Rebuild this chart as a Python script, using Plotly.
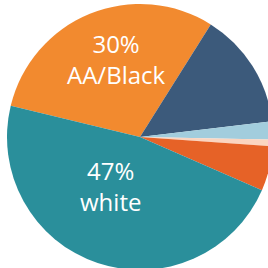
import plotly.graph_objects as go

categories = ["AA/Black", "Hispanic/Latino", "Asian", "Native American", "Two or more races", "white"]
values = [30.0, 14.1, 2.2, 0.8, 5.4, 47.0]
pct_labels = ["30%", "", "", "", "", "47%"]
name_labels = ["AA/Black", "", "", "", "", "white"]
colors = ["#F28A2F", "#3C5A7B", "#A2CDDD", "#FBD5C0", "#E66227", "#2A8F9B"]

W, H = 280, 280
cx, cy, r = 140, 137, 133

fig = go.Figure(go.Pie(
    labels=categories,
    values=values,
    textinfo="none",
    sort=False,
    direction="clockwise",
    rotation=-76.4,
    marker=dict(colors=colors, line=dict(width=0)),
    domain=dict(x=[(cx - r) / W, (cx + r) / W], y=[1 - (cy + r) / H, 1 - (cy - r) / H]),
    showlegend=False,
    hoverinfo="none",
))

# label block centres (pixels) for the two labelled slices
label_pos = {0: (116, 59), 5: (110, 186)}
font = dict(family="Open Sans", size=24, color="white")
for i, (x, y) in label_pos.items():
    fig.add_annotation(x=x / W, y=1 - y / H, xref="paper", yref="paper",
                       text=f"{pct_labels[i]}<br>{name_labels[i]}",
                       showarrow=False, font=font, xanchor="center", yanchor="middle")

fig.update_layout(
    width=W, height=H,
    margin=dict(l=0, r=0, t=0, b=0),
    paper_bgcolor="white",
    plot_bgcolor="white",
)
fig.write_html("out.html", config={"displayModeBar": False},
               post_script="document.body.style.margin='0';document.body.style.overflow='hidden';")
